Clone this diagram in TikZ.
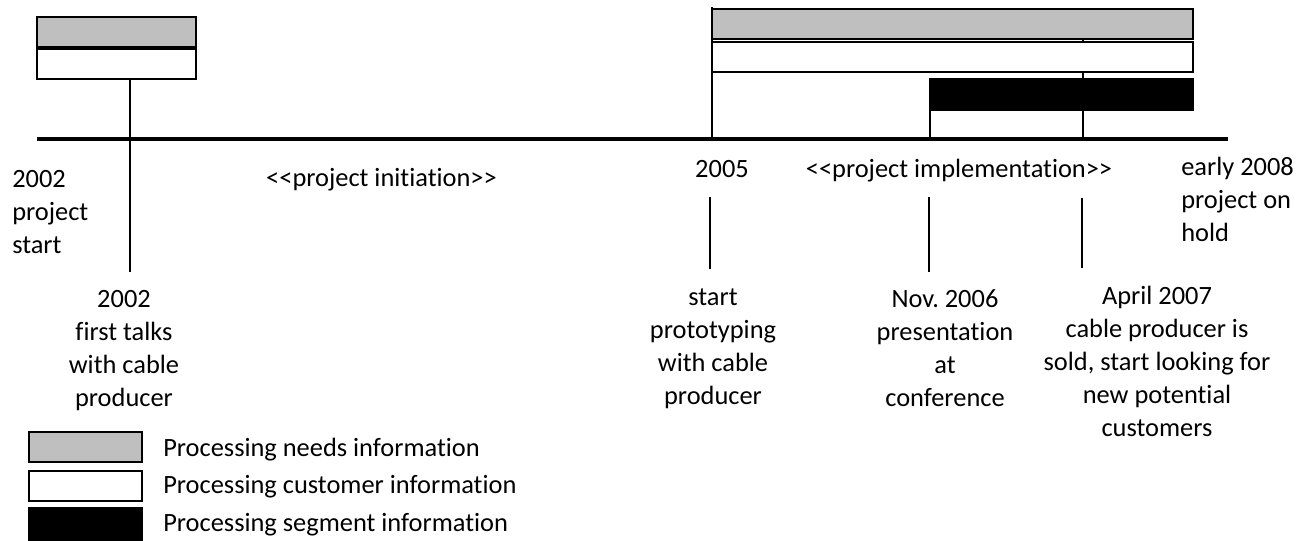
\documentclass[tikz,border=0pt]{standalone}
\usepackage{fontspec}
\setmainfont[Ligatures=NoCommon,RawFeature={-liga;-dlig}]{Carlito}
\definecolor{needs}{RGB}{191,191,191}
\frenchspacing
\begin{document}
\begin{tikzpicture}[x=0.75pt,y=-0.75pt,
  txt/.style={font=\fontsize{19.8}{24.75}\selectfont,inner sep=0pt},
  ctxt/.style={txt,align=center,anchor=north},
  ltxt/.style={txt,align=left,anchor=north west},
  bar/.style={draw=black,line width=1.4pt},
  needsbar/.style={bar,fill=needs},
  custbar/.style={bar,fill=white},
  segbar/.style={bar,fill=black},
  tick/.style={draw=black,line width=1.1pt},
  axis/.style={draw=black,line width=2.4pt}]
\useasboundingbox (0,0) rectangle (1309,540);
\newcommand\fl{\vrule width 0pt height 15pt\relax}
% coordinates
\coordinate (axL) at (37,139);
\coordinate (axR) at (1228,139);
\coordinate (a02t) at (130,47);
\coordinate (a02b) at (130,272);
\coordinate (a05t) at (712,7);
\coordinate (a05b) at (712,139);
\coordinate (a06t) at (930,110);
\coordinate (a06b) at (930,139);
\coordinate (a07t) at (1083,39);
\coordinate (a07b) at (1083,139);
\coordinate (b05t) at (710,197);
\coordinate (b05b) at (710,269);
\coordinate (b06t) at (929,197);
\coordinate (b06b) at (929,272);
\coordinate (b07t) at (1082,198);
\coordinate (b07b) at (1082,268);
% vertical markers
\draw[tick] (a02t) -- (a02b);
\draw[tick] (a05t) -- (a05b);
\draw[tick] (a06t) -- (a06b);
\draw[tick] (a07t) -- (a07b);
\draw[tick] (b05t) -- (b05b);
\draw[tick] (b06t) -- (b06b);
\draw[tick] (b07t) -- (b07b);
% bars
\draw[needsbar] (37,17) rectangle (196,47);
\draw[custbar] (37,49) rectangle (196,79);
\draw[needsbar] (712,9) rectangle (1193,39);
\draw[custbar] (712,42) rectangle (1193,72);
\draw[segbar] (930,79) rectangle (1193,110);
% axis
\draw[axis] (axL) -- (axR);
% labels
\node[ltxt] (start) at (12,167) {\fl 2002\\project\\start};
\node[txt,anchor=base] (init) at (381.5,186) {<{}<project initiation>{}>};
\node[txt,anchor=base] (y05) at (722,177) {2005};
\node[txt,anchor=base] (impl) at (959,177) {<{}<project implementation>{}>};
\node[ltxt] (hold) at (1181,155) {\fl early 2008\\project on\\hold};
\node[ctxt] (talks) at (124,287) {\fl 2002\\first talks\\with cable\\producer};
\node[ctxt] (proto) at (713,285) {\fl start\\prototyping\\with cable\\producer};
\node[ctxt] (nov) at (945,287) {\fl Nov.\ 2006\\presentation\\at\\conference};
\node[ctxt] (april) at (1157,284) {\fl April 2007\\cable producer is\\sold, start looking for\\new potential\\customers};
% legend
\draw[needsbar] (29,432) rectangle (142,462);
\draw[custbar] (29,471) rectangle (142,501);
\draw[segbar] (29,508) rectangle (142,540);
\node[txt,anchor=base west] (lneeds) at (163,456) {Processing needs information};
\node[txt,anchor=base west] (lcust) at (163,493) {Processing customer information};
\node[txt,anchor=base west] (lseg) at (163,531) {Processing segment information};
\end{tikzpicture}
\end{document}
